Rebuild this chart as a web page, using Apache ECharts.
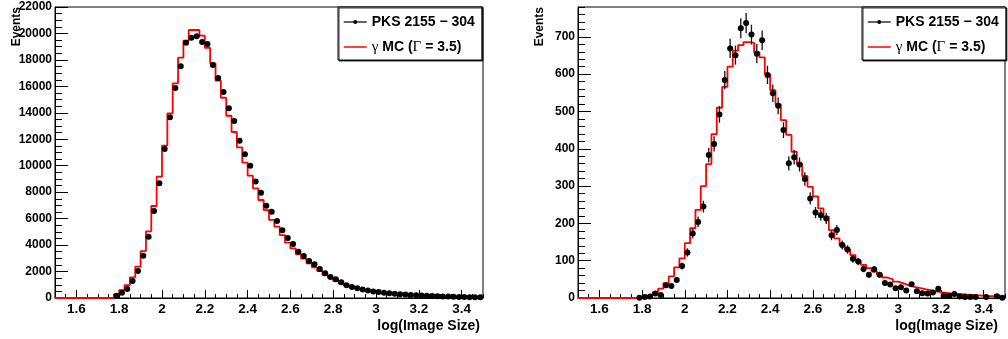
<!DOCTYPE html>
<html><head><meta charset="utf-8">
<script src="https://cdn.jsdelivr.net/npm/echarts@6/dist/echarts.min.js"></script>
<style>html,body{margin:0;padding:0;background:#fff}#c{width:1008px;height:339px}</style>
</head><body><div id="c"></div>
<script>
// ---- binning (80 bins of width 0.025 from 1.5 to 3.5) ----
const BIN_START = 1.5;
const BIN_WIDTH = 0.025;

// ---- tick labels ----
const xMajorTicks = [1.6, 1.8, 2, 2.2, 2.4, 2.6, 2.8, 3, 3.2, 3.4];
const xMinorTicks = [1.5, 1.55, 1.6, 1.65, 1.7, 1.75, 1.8, 1.85, 1.9, 1.95, 2, 2.05, 2.1, 2.15, 2.2, 2.25, 2.3, 2.35, 2.4, 2.45,
  2.5, 2.55, 2.6, 2.65, 2.7, 2.75, 2.8, 2.85, 2.9, 2.95, 3, 3.05, 3.1, 3.15, 3.2, 3.25, 3.3, 3.35, 3.4, 3.45, 3.5];
const leftYMajorTicks = [0, 2000, 4000, 6000, 8000, 10000, 12000, 14000, 16000, 18000, 20000, 22000];
const leftYMinorTicks = [0, 500, 1000, 1500, 2000, 2500, 3000, 3500, 4000, 4500, 5000, 5500, 6000, 6500, 7000, 7500, 8000, 8500,
  9000, 9500, 10000, 10500, 11000, 11500, 12000, 12500, 13000, 13500, 14000, 14500, 15000, 15500, 16000, 16500, 17000, 17500,
  18000, 18500, 19000, 19500, 20000, 20500, 21000, 21500, 22000];
const rightYMajorTicks = [0, 100, 200, 300, 400, 500, 600, 700];
const rightYMinorTicks = [0, 20, 40, 60, 80, 100, 120, 140, 160, 180, 200, 220, 240, 260, 280, 300, 320, 340, 360, 380, 400,
  420, 440, 460, 480, 500, 520, 540, 560, 580, 600, 620, 640, 660, 680, 700, 720, 740, 760, 780];

// ---- series names ----
const DATA_NAME = 'PKS 2155 \u2212 304';
const MC_NAME = '\u03b3 MC (\u0393 = 3.5)';

// ---- left panel values (per bin) ----
const leftData = [null, null, null, null, null, null, null, null, null, null,
  null, 170, 400, 680, 1285, 2040, 3200, 4640, 6580, 8670,
  11265, 13660, 15880, 17520, 19300, 19680, 19780, 19350, 19200, 17610,
  16630, 15570, 14340, 13380, 11890, 10860, 9990, 8800, 7960, 6980,
  6525, 5820, 5115, 4535, 4080, 3500, 3175, 2800, 2545, 2190,
  1865, 1590, 1410, 1185, 960, 830, 740, 650, 570, 500,
  450, 400, 360, 320, 290, 260, 235, 210, 190, 170,
  150, 135, 120, 105, 95, 85, 75, 65, 58, 50];
const leftMC = [0, 0, 0, 0, 0, 0, 0, 0, 0, 0,
  0, 280, 600, 980, 1560, 2370, 3550, 5040, 6955, 9170,
  11515, 13960, 16230, 18170, 19450, 20260, 20260, 19830, 18920, 17740,
  16430, 15140, 13780, 12550, 11390, 10230, 9250, 8290, 7410, 6650,
  5900, 5390, 4760, 4180, 3750, 3300, 2970, 2620, 2320, 2040,
  1740, 1535, 1285, 1110, 930, 800, 690, 600, 530, 470,
  420, 375, 335, 300, 270, 245, 220, 200, 180, 160,
  145, 130, 115, 102, 92, 82, 72, 64, 57, 50];

// ---- right panel values (per bin) ----
const rightData = [null, null, null, null, null, null, null, null, null, null,
  null, 1, 3, 4, 12, 8, 34, 32, 48, 86,
  122, 173, 204, 245, 383, 413, 492, 584, 669, 651,
  723, 737, 706, 655, 691, 598, 549, 515, 450, 361,
  377, 358, 319, 267, 229, 222, 213, 168, 182, 142,
  130, 105, 98, 78, 62, 77, 62, 40, 36, 26,
  29, 20, 37, 18, 13, 12, 15, 25, 6, 6,
  11, 4, 3, 3, 3, null, 3, null, 5, 1];
const rightMC = [0, 0, 0, 0, 0, 0, 0, 0, 0, 0,
  0, 3, 6, 10, 16, 25, 40, 58, 82, 106,
  147, 187, 236, 300, 359, 439, 510, 566, 620, 663,
  678, 686, 684, 658, 645, 600, 557, 519, 477, 437,
  392, 360, 327, 298, 272, 240, 218, 182, 160, 142,
  129, 115, 100, 89, 80, 71, 63, 55, 50, 44,
  39, 34, 30, 27, 24, 21, 18, 16, 14, 12,
  11, 10, 9, 8, 7, 6, 5, 5, 4, 4];

// ---------------------------------------------------------------
const FONT = "'Liberation Sans', Arial, Helvetica, sans-serif";
const SERIF = "'Liberation Serif', 'Times New Roman', serif";
const edge = i => +(BIN_START + BIN_WIDTH * i).toFixed(4);
const center = i => +(BIN_START + BIN_WIDTH * (i + 0.5)).toFixed(4);

function stepData(vals) {
  const out = vals.map((v, i) => [edge(i), v]);
  out.push([edge(vals.length), vals[vals.length - 1]]);
  return out;
}
function pointData(vals) {
  const out = [];
  vals.forEach((v, i) => { if (v !== null) out.push([center(i), v]); });
  return out;
}
function errData(vals) {
  const out = [];
  vals.forEach((v, i) => { if (v !== null) out.push([center(i), v, Math.sqrt(v)]); });
  return out;
}
function errRender(params, api) {
  const x = api.value(0), y = api.value(1), e = api.value(2);
  const a = api.coord([x, y + e]), b = api.coord([x, y - e]);
  return { type: 'line', shape: { x1: a[0], y1: a[1], x2: b[0], y2: b[1] },
    style: { stroke: '#111', lineWidth: 1.3 } };
}

function xAxes(grid, nameGap) {
  return [{
    type: 'value', gridIndex: grid, position: 'bottom', min: 1.5, max: 3.5,
    name: 'log(Image Size)', nameLocation: 'end', nameGap: nameGap, nameMoveOverlap: false,
    nameTextStyle: { fontFamily: FONT, fontWeight: 'bold', fontSize: 14, color: '#000', align: 'right', verticalAlign: 'top', padding: [21, 0, 0, 0] },
    axisLine: { show: true, onZero: false, lineStyle: { color: '#000', width: 1 } },
    axisTick: { show: true, inside: true, length: 8, customValues: xMajorTicks, lineStyle: { color: '#000', width: 1 } },
    axisLabel: { customValues: xMajorTicks, margin: 4, fontFamily: FONT, fontWeight: 'bold', fontSize: 13.5, color: '#000',
      formatter: v => String(v) },
    splitLine: { show: false }
  }, {
    type: 'value', gridIndex: grid, position: 'bottom', min: 1.5, max: 3.5,
    axisLine: { show: false, onZero: false },
    axisTick: { show: true, inside: true, length: 4, customValues: xMinorTicks, lineStyle: { color: '#000', width: 1 } },
    axisLabel: { show: false },
    splitLine: { show: false }
  }];
}
function yAxes(grid, max, major, minor) {
  return [{
    type: 'value', gridIndex: grid, position: 'left', min: 0, max: max,
    name: 'Events', nameLocation: 'end', nameRotate: 90, nameGap: 0, nameMoveOverlap: false,
    nameTextStyle: { fontFamily: FONT, fontWeight: 'bold', fontSize: 12, color: '#000', align: 'right', verticalAlign: 'bottom', padding: [0, 0, 32, 0] },
    axisLine: { show: true, onZero: false, lineStyle: { color: '#000', width: 1 } },
    axisTick: { show: true, inside: true, length: 13, customValues: major, lineStyle: { color: '#000', width: 1 } },
    axisLabel: { customValues: major, margin: 3, fontFamily: FONT, fontWeight: 'bold', fontSize: 12, color: '#000',
      formatter: v => String(v) },
    splitLine: { show: false }
  }, {
    type: 'value', gridIndex: grid, position: 'left', min: 0, max: max,
    axisLine: { show: false, onZero: false },
    axisTick: { show: true, inside: true, length: 7, customValues: minor, lineStyle: { color: '#000', width: 1 } },
    axisLabel: { show: false },
    splitLine: { show: false }
  }];
}
function legendFor(left) {
  return {
    left: left, top: 7, orient: 'vertical', selectedMode: false,
    padding: [7, 7, 5, 5], itemWidth: 23, itemHeight: 5, itemGap: 9,
    backgroundColor: '#fff', borderColor: '#000', borderWidth: 1,
    shadowColor: 'rgba(0,0,0,0.8)', shadowOffsetX: 1, shadowOffsetY: 1, shadowBlur: 0,
    textStyle: { fontFamily: FONT, fontWeight: 'bold', fontSize: 14, color: '#000', lineHeight: 16,
      rich: { g: { fontFamily: SERIF, fontWeight: 'normal', fontSize: 15, color: '#000', lineHeight: 16 } } },
    formatter: n => n === MC_NAME ? '{g|\u03b3} MC ({g|\u0393} = 3.5)' : n,
    data: [
      { name: DATA_NAME, itemStyle: { color: '#000', opacity: 1 }, lineStyle: { color: '#000', width: 1.2, opacity: 1 } },
      { name: MC_NAME, itemStyle: { opacity: 0 }, lineStyle: { color: '#ff0000', width: 1.5, opacity: 1 } }
    ]
  };
}
function panelSeries(xi, yi, dataVals, mcVals) {
  return [{
    name: MC_NAME, type: 'line', step: 'end', xAxisIndex: xi, yAxisIndex: yi,
    data: stepData(mcVals), symbol: 'none', showSymbol: false, silent: true,
    lineStyle: { color: '#ff0000', width: 1.8 }, itemStyle: { color: '#ff0000' }, z: 2, animation: false
  }, {
    name: DATA_NAME, type: 'line', xAxisIndex: xi, yAxisIndex: yi,
    data: pointData(dataVals), symbol: 'circle', symbolSize: 6, showSymbol: true,
    lineStyle: { width: 0, opacity: 0 }, itemStyle: { color: '#000' }, z: 4, animation: false
  }, {
    name: DATA_NAME, type: 'custom', xAxisIndex: xi, yAxisIndex: yi,
    data: errData(dataVals), renderItem: errRender, z: 3, silent: true, animation: false,
    itemStyle: { color: '#000' }
  }];
}

const chart = echarts.init(document.getElementById('c'), null, { renderer: 'canvas' });
chart.setOption({
  backgroundColor: '#fff',
  animation: false,
  grid: [
    { left: 55, top: 7, width: 428, height: 291, show: true, borderColor: '#000', borderWidth: 1, backgroundColor: 'transparent' },
    { left: 578, top: 7, width: 427, height: 291, show: true, borderColor: '#000', borderWidth: 1, backgroundColor: 'transparent' }
  ],
  xAxis: [...xAxes(0, -3), ...xAxes(1, -7)],
  yAxis: [...yAxes(0, 22000, leftYMajorTicks, leftYMinorTicks), ...yAxes(1, 780, rightYMajorTicks, rightYMinorTicks)],
  legend: [legendFor(338), legendFor(862)],
  series: [...panelSeries(0, 0, leftData, leftMC), ...panelSeries(2, 2, rightData, rightMC)]
});
</script></body></html>
